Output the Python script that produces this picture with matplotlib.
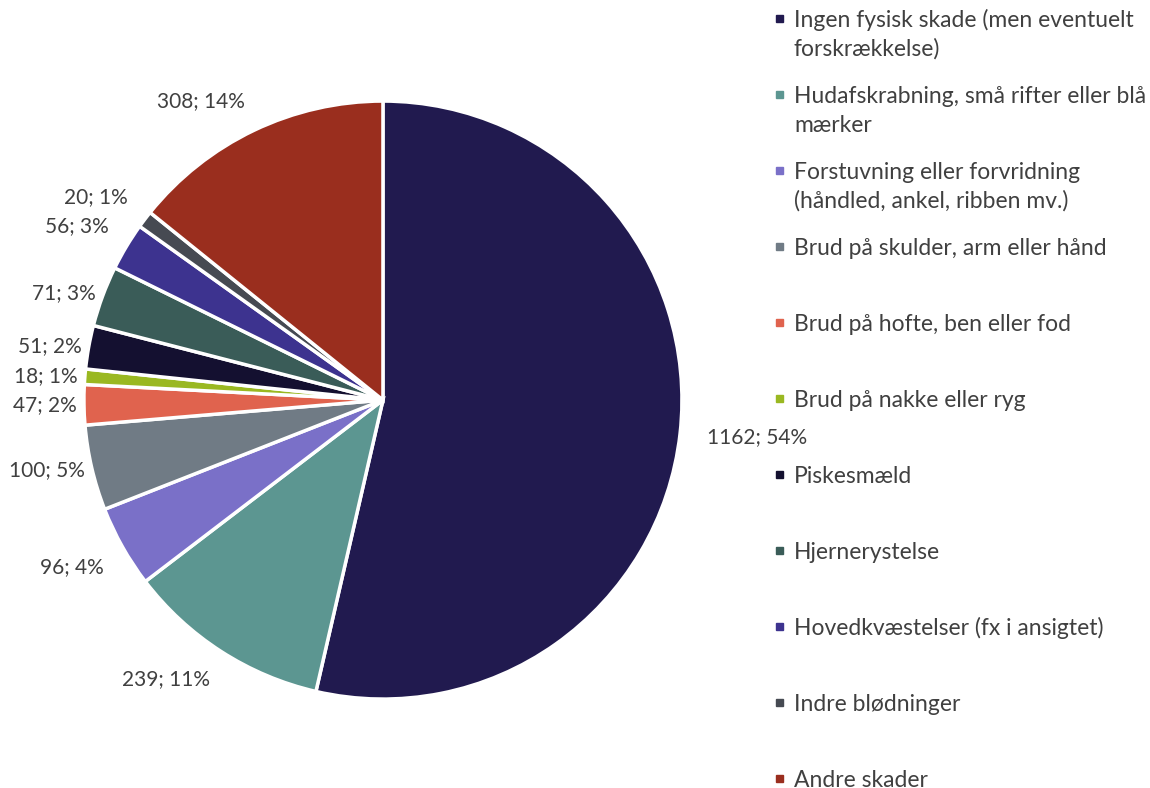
import matplotlib
matplotlib.use("Agg")
import numpy as np
import matplotlib.pyplot as plt
from matplotlib.patches import Rectangle

# data
categories = [
    "Ingen fysisk skade (men eventuelt\nforskrækkelse)",
    "Hudafskrabning, små rifter eller blå\nmærker",
    "Forstuvning eller forvridning\n(håndled, ankel, ribben mv.)",
    "Brud på skulder, arm eller hånd",
    "Brud på hofte, ben eller fod",
    "Brud på nakke eller ryg",
    "Piskesmæld",
    "Hjernerystelse",
    "Hovedkvæstelser (fx i ansigtet)",
    "Indre blødninger",
    "Andre skader",
]
counts = [1162, 239, 96, 100, 47, 18, 51, 71, 56, 20, 308]
colors = ["#211a4f", "#5c9691", "#7a70c8", "#707b85", "#e0634e", "#9ab821",
          "#141030", "#3a5c58", "#3d338f", "#464a52", "#9a2e1e"]

total = sum(counts)
labels = [f"{c}; {round(c / total * 100)}%" for c in counts]

plt.rcParams['font.family'] = ['Lato', 'DejaVu Sans']
text_color = "#404040"

fig = plt.figure(figsize=(11.5, 7.88), dpi=100)
ax = fig.add_axes([0.008, 0.018, 0.65, 0.9486])

wedges, _ = ax.pie(counts, colors=colors, startangle=90, counterclock=False,
                   wedgeprops=dict(edgecolor="white", linewidth=2.5))
ax.set_xlim(-1.25, 1.25)
ax.set_ylim(-1.25, 1.25)
ax.set_aspect("equal")

# data labels just outside the pie, anchored by the side nearest the slice
for w, lab in zip(wedges, labels):
    ang = np.deg2rad((w.theta1 + w.theta2) / 2)
    c, s = np.cos(ang), np.sin(ang)
    ha = "right" if c < -0.3 else ("left" if c > 0.3 else "center")
    va = "bottom" if s > 0.45 else ("top" if s < -0.45 else "center")
    if va == "center":
        r = 1.09 if c > 0 else 1.025
    else:
        r = 1.07
    ax.text(r * c, r * s, lab, ha=ha, va=va, color=text_color, fontsize=15)

# legend drawn by hand so the square sits on the first text line
W, H = 1150, 788
top = 18.5
step = 76
line_h = 29
for i, (name, col) in enumerate(zip(categories, colors)):
    y = top + i * step
    fig.patches.append(Rectangle((776 / W, 1 - (y + 3.5) / H), 7 / W, 7 / H,
                                 transform=fig.transFigure, color=col))
    for j, line in enumerate(name.split("\n")):
        fig.text(794 / W, 1 - (y + 8.5 + j * line_h) / H, line, color=text_color,
                 fontsize=16.5, va="baseline", ha="left")

fig.savefig("out.png", dpi=100, facecolor="white")
